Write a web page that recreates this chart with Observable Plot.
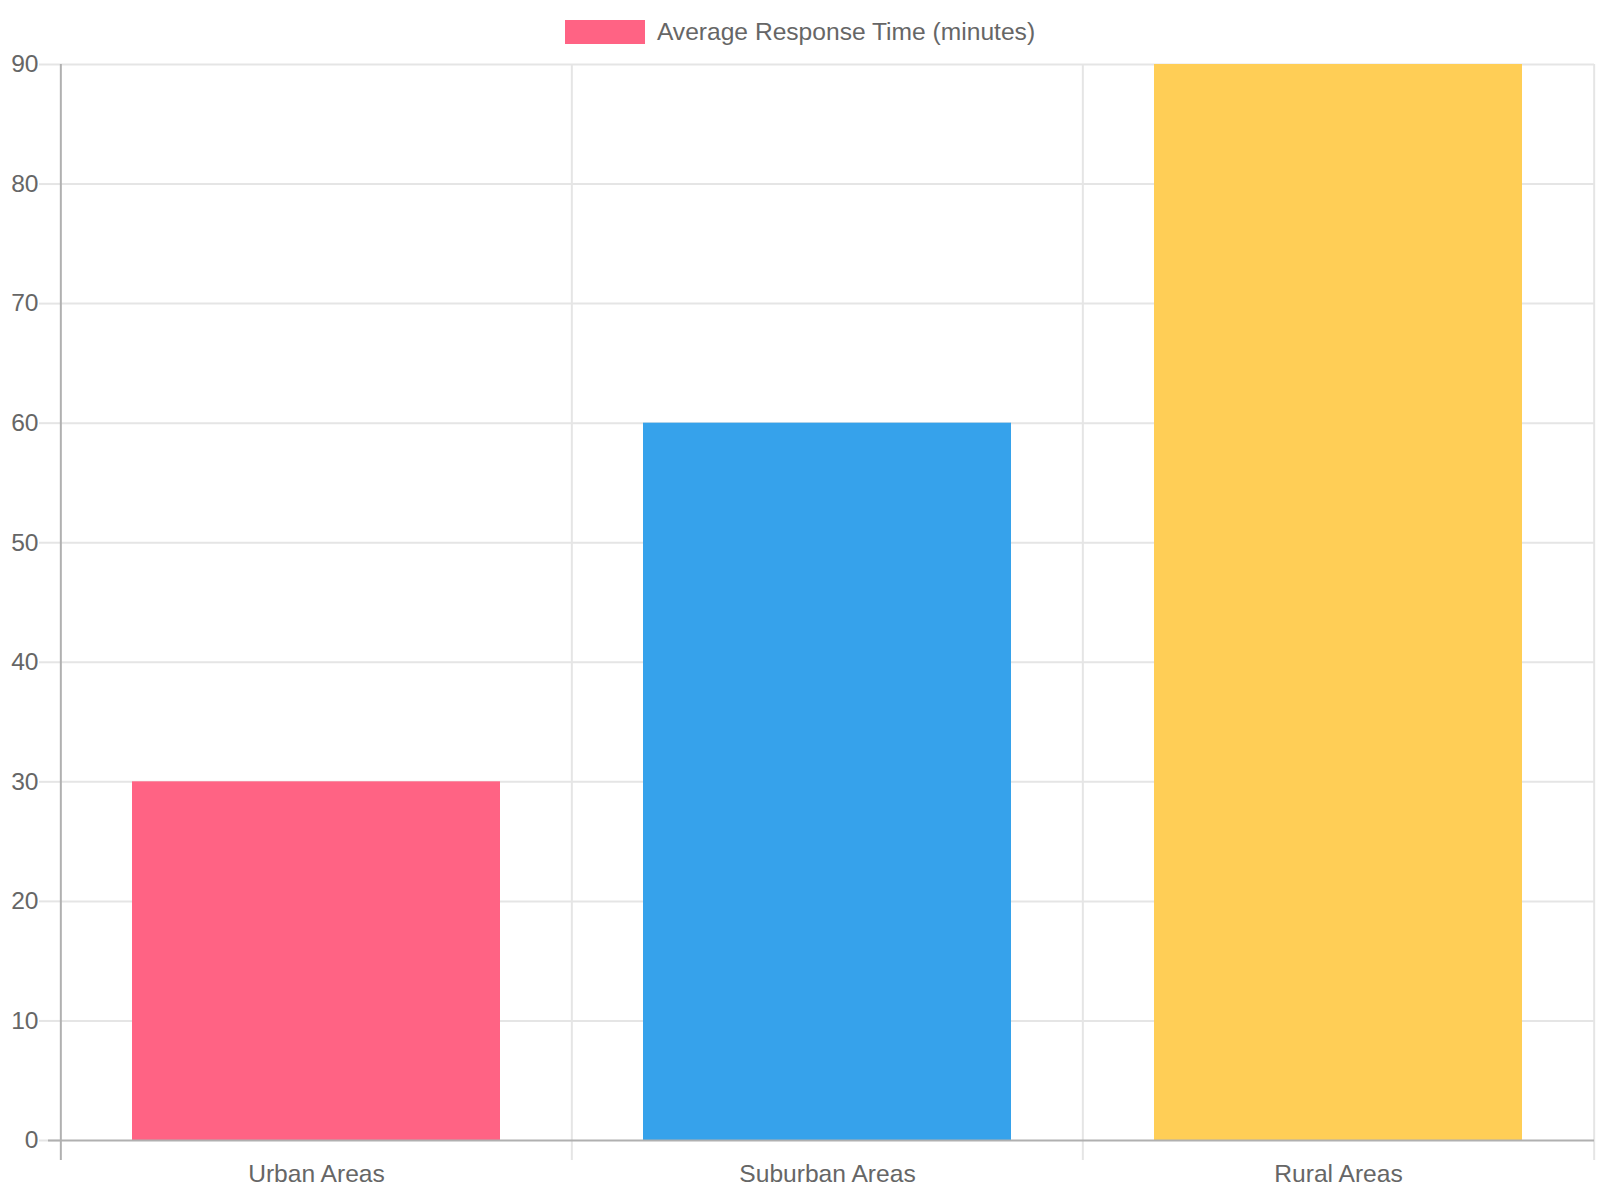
<!DOCTYPE html>
<html>
<head>
<meta charset="utf-8">
<script src="https://cdn.jsdelivr.net/npm/d3@7"></script>
<script src="https://cdn.jsdelivr.net/npm/@observablehq/plot@0.6"></script>
<style>
  html, body { margin: 0; padding: 0; background: #fff; overflow: hidden; }
  #wrap { width: 1600px; height: 1200px; font-family: "Liberation Sans", Arial, sans-serif; }
  #legend { height: 44px; display: flex; justify-content: center; align-items: flex-end; }
  #legend .item { display: flex; align-items: center; height: 24px; }
  #legend .sw { width: 80px; height: 24px; background: #FF6384; margin-right: 12px; }
  #legend .lb { font-size: 24.6px; color: #666; line-height: 24px; }
  svg { display: block; }
</style>
</head>
<body>
<div id="wrap">
  <div id="legend"><div class="item"><div class="sw"></div><div class="lb"></div></div></div>
  <div id="chart"></div>
</div>
<script>
const categories = ["Urban Areas", "Suburban Areas", "Rural Areas"];
const responseTimes = [30, 60, 90];
const seriesLabel = "Average Response Time (minutes)";
const yTicks = [0, 10, 20, 30, 40, 50, 60, 70, 80, 90];

document.querySelector("#legend .lb").textContent = seriesLabel;

const data = categories.map((c, i) => ({category: c, value: responseTimes[i]}));

const W = 1600, H = 1156;
const mL = 60, mR = 6, mT = 20, mB = 60;
const step = (W - mL - mR) / categories.length;
const gridColor = "#e5e5e5";
const axisColor = "#b0b0b0";

const chart = Plot.plot({
  width: W,
  height: H,
  marginLeft: mL,
  marginRight: mR,
  marginTop: mT,
  marginBottom: mB,
  style: {fontSize: "24.6px", fontFamily: "'Liberation Sans', Arial, sans-serif", background: "#fff"},
  x: {type: "band", domain: categories, paddingInner: 0.28, paddingOuter: 0.14},
  y: {domain: [0, 90]},
  color: {domain: categories, range: ["#FF6384", "#36A2EB", "#FFCE56"]},
  marks: [
    // horizontal grid
    Plot.ruleY(yTicks.filter(t => t !== 0), {stroke: gridColor, strokeWidth: 2}),
    // vertical category boundaries (extend below axis as ticks)
    Plot.ruleX(categories.slice(1), {stroke: gridColor, strokeWidth: 2, dx: -step / 2, insetBottom: -20}),
    Plot.ruleX(categories.slice(-1), {stroke: gridColor, strokeWidth: 2, dx: step / 2, insetBottom: -20}),
    Plot.axisY({ticks: yTicks, tickSize: 21, tickPadding: 1, stroke: gridColor, fill: "#666", label: null, strokeWidth: 2}),
    Plot.barY(data, {x: "category", y: "value", fill: "category"}),
    Plot.axisX({tickSize: 0, tickPadding: 24, fill: "#666", label: null}),
    // axis lines
    Plot.ruleY([0], {stroke: axisColor, strokeWidth: 2, insetLeft: -12}),
    Plot.ruleX(categories.slice(0, 1), {stroke: axisColor, strokeWidth: 2, dx: -step / 2, insetBottom: -20})
  ]
});
document.getElementById("chart").appendChild(chart);
</script>
</body>
</html>
